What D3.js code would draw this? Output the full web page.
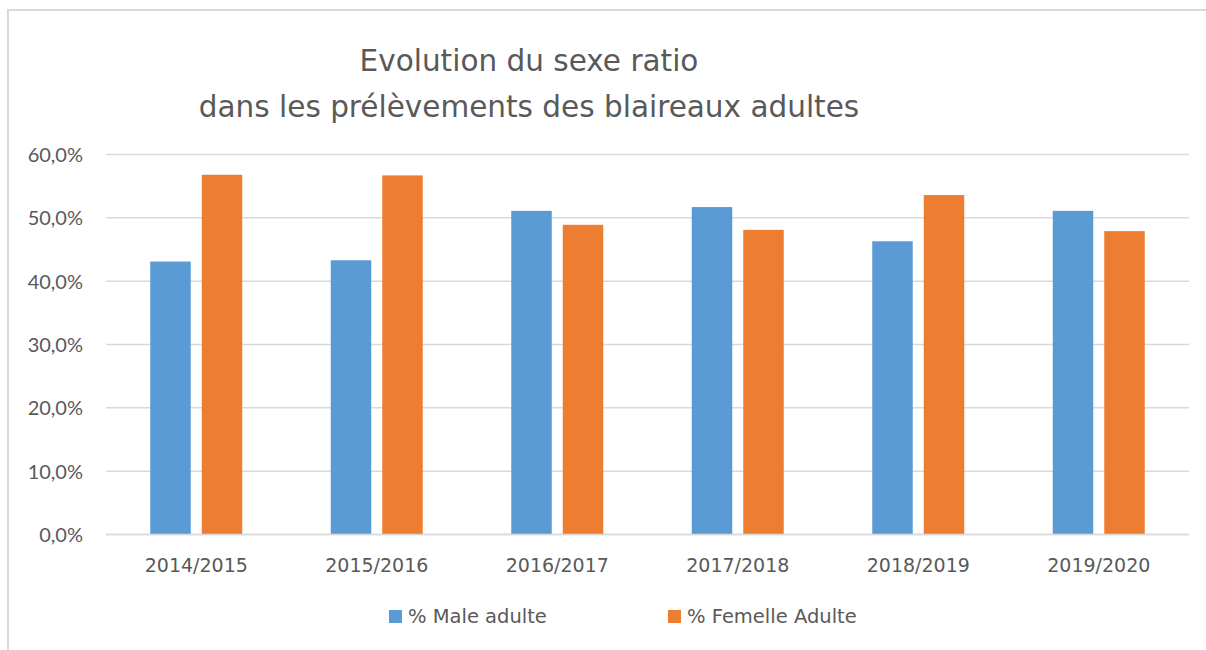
<!DOCTYPE html>
<html>
<head>
<meta charset="utf-8">
<script src="https://cdn.jsdelivr.net/npm/d3@7"></script>
<style>
  body { margin: 0; background: #fff; }
  svg text { font-family: "DejaVu Sans", sans-serif; fill: #595959; }
  svg .ylab text { font-family: Lato, sans-serif; }
</style>
</head>
<body>
<script>
// chart data
var categories = ["2014/2015", "2015/2016", "2016/2017", "2017/2018", "2018/2019", "2019/2020"];
var seriesNames = ["% Male adulte", "% Femelle Adulte"];
var maleValues = [43.1, 43.3, 51.1, 51.7, 46.3, 51.1];
var femaleValues = [56.8, 56.7, 48.9, 48.1, 53.6, 47.9];
var yTicks = [0, 10, 20, 30, 40, 50, 60];
var colors = ["#5b9bd5", "#ed7d31"];

var W = 1206, H = 650;
var margin = {top: 154.5, right: 17, bottom: 115.5, left: 106};
var width = W - margin.left - margin.right;
var height = H - margin.top - margin.bottom;

var svg = d3.select("body").append("svg")
    .attr("width", W)
    .attr("height", H);

// chart frame
svg.append("path")
    .attr("d", "M8,650 L8,10 L1206,10")
    .attr("fill", "none")
    .attr("stroke", "#d9d9d9")
    .attr("stroke-width", 2);

// title
var title = svg.append("text")
    .attr("text-anchor", "middle")
    .style("font-size", "29.5px");
title.append("tspan").attr("x", 529).attr("y", 71).text("Evolution du sexe ratio");
title.append("tspan").attr("x", 529).attr("y", 117).text("dans les prélèvements des blaireaux adultes");

var g = svg.append("g")
    .attr("transform", "translate(" + margin.left + "," + margin.top + ")");

var x = d3.scaleBand().domain(categories).range([0, width]);
var xs = d3.scaleBand().domain([0, 1]).range([-46, 46]).paddingInner(0.2136);
var y = d3.scaleLinear().domain([0, 60]).range([height, 0]);

// gridlines
g.append("g").selectAll("line")
    .data(yTicks)
    .enter().append("line")
    .attr("x1", 0).attr("x2", width)
    .attr("y1", function(d) { return y(d); })
    .attr("y2", function(d) { return y(d); })
    .attr("stroke", "#d9d9d9")
    .attr("stroke-width", 1.5);

// y axis labels
var yAxis = d3.axisLeft(y).tickValues(yTicks).tickSize(0).tickPadding(23)
    .tickFormat(function(d) { return d3.format(".1f")(d).replace(".", ",") + "%"; });
g.append("g").attr("class", "ylab").call(yAxis)
    .call(function(a) { a.select(".domain").remove(); })
    .selectAll("text")
    .style("font-size", "20px")
    .attr("dy", "0.35em");

// bars
var rows = categories.map(function(c, i) { return {cat: c, vals: [maleValues[i], femaleValues[i]]}; });
var groups = g.append("g").selectAll("g")
    .data(rows)
    .enter().append("g")
    .attr("transform", function(d) { return "translate(" + (x(d.cat) + x.bandwidth() / 2) + ",0)"; });

groups.selectAll("rect")
    .data(function(d) { return d.vals.map(function(v, k) { return {k: k, v: v}; }); })
    .enter().append("rect")
    .attr("x", function(d) { return xs(d.k); })
    .attr("width", xs.bandwidth())
    .attr("y", function(d) { return y(d.v); })
    .attr("height", function(d) { return height - y(d.v); })
    .attr("fill", function(d) { return colors[d.k]; });

// baseline
g.append("line")
    .attr("x1", 0).attr("x2", width)
    .attr("y1", height).attr("y2", height)
    .attr("stroke", "#d9d9d9")
    .attr("stroke-width", 1.5);

// x axis labels
var xAxis = d3.axisBottom(x).tickSize(0).tickPadding(24);
g.append("g")
    .attr("transform", "translate(0," + height + ")")
    .call(xAxis)
    .call(function(a) { a.select(".domain").remove(); })
    .selectAll("text")
    .style("font-size", "19px");

// legend
var legendX = [389, 668];
var legend = svg.append("g").selectAll("g")
    .data(seriesNames)
    .enter().append("g")
    .attr("transform", function(d, i) { return "translate(" + legendX[i] + ",610)"; });
legend.append("rect")
    .attr("width", 13).attr("height", 13)
    .attr("fill", function(d, i) { return colors[i]; });
legend.append("text")
    .attr("x", 19).attr("y", 12.5)
    .style("font-size", "19.5px")
    .text(function(d) { return d; });
</script>
</body>
</html>
